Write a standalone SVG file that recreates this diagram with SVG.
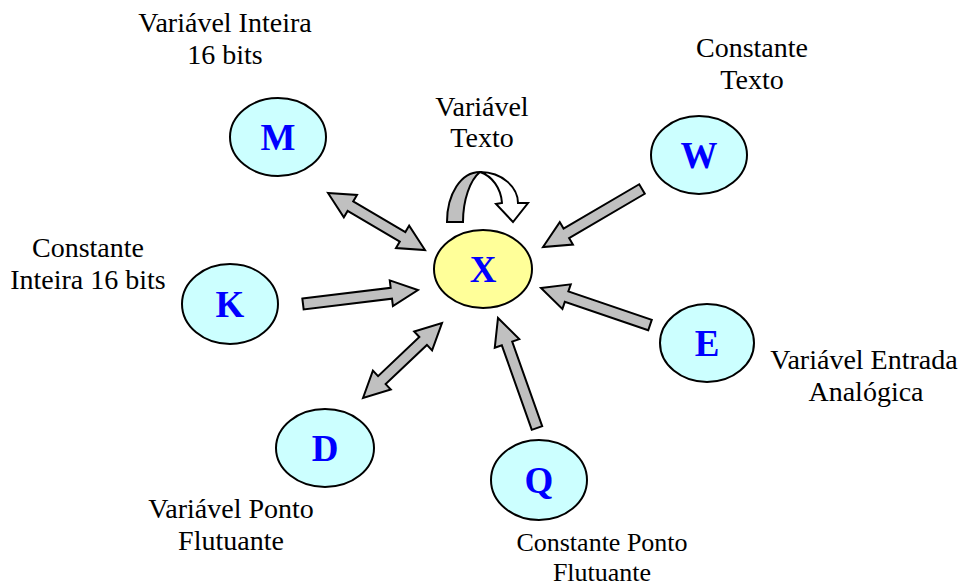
<svg xmlns="http://www.w3.org/2000/svg" width="964" height="585" viewBox="0 0 964 585">
  <style>
    .lbl { font-family: "Liberation Serif", "Times New Roman", serif; font-size: 28px; fill: #000; text-anchor: middle; }
    .lbl-s { font-size: 26px; }
    .let { font-family: "Liberation Serif", "Times New Roman", serif; font-size: 37px; font-weight: bold; fill: #0000FF; text-anchor: middle; }
    .op { fill: #CCFFFF; stroke: #000; stroke-width: 2; }
    .hub { fill: #FFFF99; stroke: #000; stroke-width: 2; }
    .arr { fill: #C0C0C0; stroke: #000; stroke-width: 2; stroke-linejoin: miter; }
    .arrw { fill: #FFFFFF; stroke: #000; stroke-width: 2; stroke-linejoin: miter; }
  </style>
  <rect width="964" height="585" fill="#FFFFFF"/>

  <g id="connectors">
    <!-- M <-> X -->
    <path class="arr" transform="translate(328,193) rotate(30.44)" d="M0,0 L26,-13 V-5.5 H86.5 V-13 L112.5,0 L86.5,13 V5.5 H26 V13 Z"/>
    <!-- K -> X -->
    <path class="arr" transform="translate(303,304) rotate(-6.94)" d="M0,-5.5 H89 V-13 L115.8,0 L89,13 V5.5 H0 Z"/>
    <!-- D <-> X -->
    <path class="arr" transform="translate(363,398) rotate(-43.5)" d="M0,0 L26,-13 V-5.5 H82.9 V-13 L108.9,0 L82.9,13 V5.5 H26 V13 Z"/>
    <!-- Q -> X -->
    <path class="arr" transform="translate(537,428) rotate(-109.53)" d="M0,-5.5 H89.7 V-13 L116.7,0 L89.7,13 V5.5 H0 Z"/>
    <!-- E -> X -->
    <path class="arr" transform="translate(650,325) rotate(-161.25)" d="M0,-5.5 H88.1 V-13 L115.1,0 L88.1,13 V5.5 H0 Z"/>
    <!-- W -> X -->
    <path class="arr" transform="translate(642,189) rotate(149.64)" d="M0,-5.5 H87.7 V-13 L114.7,0 L87.7,13 V5.5 H0 Z"/>
    <!-- X -> X (self loop) -->
    <path class="arr" d="M447,222 C447,194 461,172 480,172 C470,180 463,200 463,222 Z"/>
    <path class="arrw" d="M480,172 C503,172 518,188 518,203 L528,203 L513,222 L496,204 L502,203 C501,188 492,176 480,172 Z"/>
  </g>

  <g id="node-X">
    <ellipse class="hub" cx="483" cy="269" rx="49" ry="39"/>
    <text class="let" x="483" y="282">X</text>
  </g>
  <g id="node-M">
    <ellipse class="op" cx="278" cy="137" rx="48" ry="39"/>
    <text class="let" x="278" y="150">M</text>
    <text class="lbl" x="225" y="32">Variável Inteira</text>
    <text class="lbl" x="225" y="64">16 bits</text>
  </g>
  <g id="node-W">
    <ellipse class="op" cx="699" cy="155" rx="48" ry="39"/>
    <text class="let" x="699" y="168">W</text>
    <text class="lbl" x="752" y="57">Constante</text>
    <text class="lbl" x="752" y="89">Texto</text>
  </g>
  <g id="node-K">
    <ellipse class="op" cx="230" cy="304" rx="48" ry="40"/>
    <text class="let" x="230" y="317">K</text>
    <text class="lbl" x="88" y="257">Constante</text>
    <text class="lbl" x="88" y="289">Inteira 16 bits</text>
  </g>
  <g id="node-E">
    <ellipse class="op" cx="707" cy="343" rx="47" ry="39"/>
    <text class="let" x="707" y="356">E</text>
    <text class="lbl" x="864" y="369">Variável Entrada</text>
    <text class="lbl" x="866" y="401">Analógica</text>
  </g>
  <g id="node-D">
    <ellipse class="op" cx="325" cy="448" rx="49" ry="39"/>
    <text class="let" x="325" y="461">D</text>
    <text class="lbl" x="231" y="518">Variável Ponto</text>
    <text class="lbl" x="231" y="550">Flutuante</text>
  </g>
  <g id="node-Q">
    <ellipse class="op" cx="539" cy="480" rx="48" ry="40"/>
    <text class="let" x="539" y="493">Q</text>
    <text class="lbl lbl-s" x="602" y="551">Constante Ponto</text>
    <text class="lbl lbl-s" x="602" y="581">Flutuante</text>
  </g>
  <g id="label-X">
    <text class="lbl" x="482" y="116">Variável</text>
    <text class="lbl" x="482" y="147">Texto</text>
  </g>
</svg>
